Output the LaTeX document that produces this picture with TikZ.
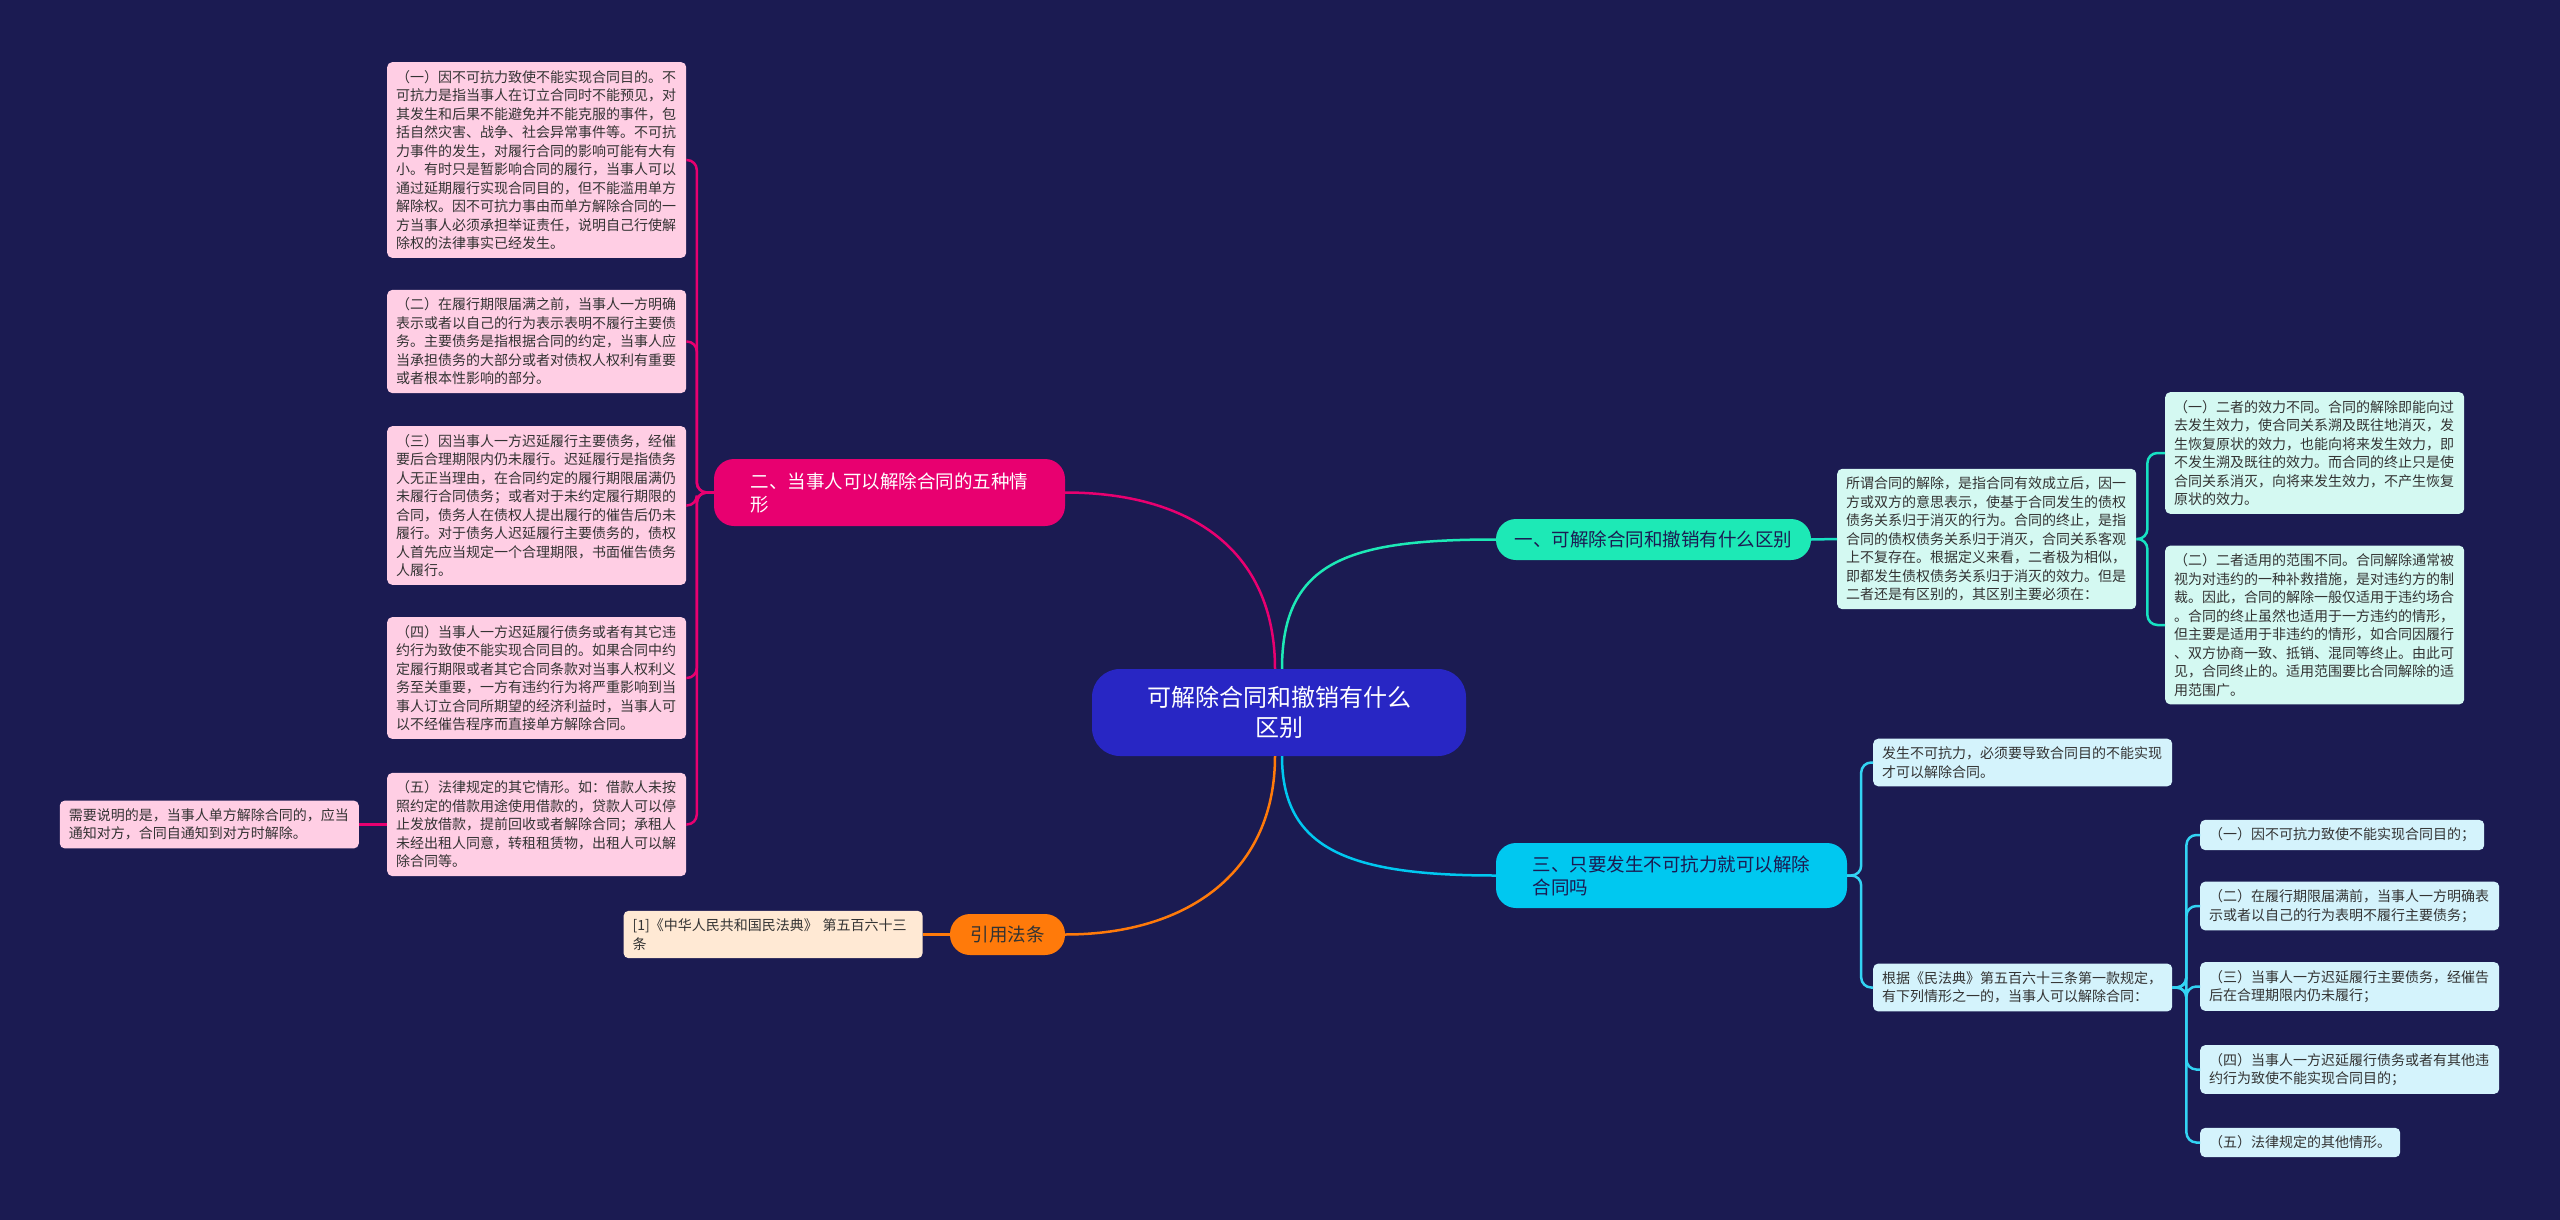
\documentclass[tikz,border=0pt]{standalone}
\usepackage{fontspec}
\setmainfont{Noto Sans CJK SC}
\usetikzlibrary{positioning}
\definecolor{bgc}{RGB}{27,27,82}
\definecolor{ctrc}{RGB}{40,38,196}
\definecolor{pinkc}{RGB}{232,0,112}
\definecolor{pinkbg}{RGB}{255,206,228}
\definecolor{mintc}{RGB}{29,233,182}
\definecolor{mintbg}{RGB}{212,249,242}
\definecolor{cyanc}{RGB}{0,200,240}
\definecolor{cyanbg}{RGB}{212,243,252}
\definecolor{orc}{RGB}{255,122,10}
\definecolor{orbg}{RGB}{255,233,212}
\definecolor{txtc}{RGB}{51,51,51}

\begin{document}
\begin{tikzpicture}[
  x=1pt,y=-1pt,
  root/.style={fill=ctrc,text=white,rounded corners=28pt,minimum width=374pt,minimum height=87pt,align=center,font=\fontsize{24}{30}\selectfont},
  topic/.style={rounded corners=20pt,minimum height=41pt,inner xsep=16pt,align=left,font=\fontsize{18.5}{23}\selectfont},
  note/.style={rounded corners=5pt,inner xsep=9pt,inner ysep=8pt,align=left,text=txtc,font=\fontsize{14}{18.5}\selectfont},
  wide/.style={text width=281pt},
  link/.style={line width=2.5pt}
]
\useasboundingbox (0,0) rectangle (2560,1220);
\fill[bgc] (0,0) rectangle (2560,1220);

\node[root] (ctr) at (1279,712.5) {可解除合同和撤销有什么\\区别};

\node[topic,fill=mintc,text=bgc,minimum width=315pt] (b1) at (1653.5,539.5) {一、可解除合同和撤销有什么区别};
\node[topic,fill=pinkc,text=white,minimum width=351pt,minimum height=67pt] (b2) at (889.5,492.5) {二、当事人可以解除合同的五种情\\形};
\node[topic,fill=cyanc,text=bgc,minimum width=351pt,minimum height=65pt] (b3) at (1671.5,875.5) {三、只要发生不可抗力就可以解除\\合同吗};
\node[topic,fill=orc,text=black!80,minimum width=115pt] (b4) at (1007.5,934.5) {引用法条};

% branch two
\node[note,wide,fill=pinkbg,anchor=west] (l1) at (387,160) {（一）因不可抗力致使不能实现合同目的。不\\可抗力是指当事人在订立合同时不能预见，对\\其发生和后果不能避免并不能克服的事件，包\\括自然灾害、战争、社会异常事件等。不可抗\\力事件的发生，对履行合同的影响可能有大有\\小。有时只是暂影响合同的履行，当事人可以\\通过延期履行实现合同目的，但不能滥用单方\\解除权。因不可抗力事由而单方解除合同的一\\方当事人必须承担举证责任，说明自己行使解\\除权的法律事实已经发生。};
\node[note,wide,fill=pinkbg,anchor=west] (l2) at (387,341.5) {（二）在履行期限届满之前，当事人一方明确\\表示或者以自己的行为表示表明不履行主要债\\务。主要债务是指根据合同的约定，当事人应\\当承担债务的大部分或者对债权人权利有重要\\或者根本性影响的部分。};
\node[note,wide,fill=pinkbg,anchor=west] (l3) at (387,505.5) {（三）因当事人一方迟延履行主要债务，经催\\要后合理期限内仍未履行。迟延履行是指债务\\人无正当理由，在合同约定的履行期限届满仍\\未履行合同债务；或者对于未约定履行期限的\\合同，债务人在债权人提出履行的催告后仍未\\履行。对于债务人迟延履行主要债务的，债权\\人首先应当规定一个合理期限，书面催告债务\\人履行。};
\node[note,wide,fill=pinkbg,anchor=west] (l4) at (387,678) {（四）当事人一方迟延履行债务或者有其它违\\约行为致使不能实现合同目的。如果合同中约\\定履行期限或者其它合同条款对当事人权利义\\务至关重要，一方有违约行为将严重影响到当\\事人订立合同所期望的经济利益时，当事人可\\以不经催告程序而直接单方解除合同。};
\node[note,wide,fill=pinkbg,anchor=west] (l5) at (387,824.5) {（五）法律规定的其它情形。如：借款人未按\\照约定的借款用途使用借款的，贷款人可以停\\止发放借款，提前回收或者解除合同；承租人\\未经出租人同意，转租租赁物，出租人可以解\\除合同等。};
\node[note,wide,fill=pinkbg,left=28pt of l5] (l5a) {需要说明的是，当事人单方解除合同的，应当\\通知对方，合同自通知到对方时解除。};

% cited law
\node[note,wide,fill=orbg,left=27pt of b4] (cite) {[1]《中华人民共和国民法典》 第五百六十三\\条};

% branch one
\node[note,wide,fill=mintbg,anchor=west] (d1) at (1837,539) {所谓合同的解除，是指合同有效成立后，因一\\方或双方的意思表示，使基于合同发生的债权\\债务关系归于消灭的行为。合同的终止，是指\\合同的债权债务关系归于消灭，合同关系客观\\上不复存在。根据定义来看，二者极为相似，\\即都发生债权债务关系归于消灭的效力。但是\\二者还是有区别的，其区别主要必须在：};
\node[note,wide,fill=mintbg,anchor=west] (d1a) at (2165,453) {（一）二者的效力不同。合同的解除即能向过\\去发生效力，使合同关系溯及既往地消灭，发\\生恢复原状的效力，也能向将来发生效力，即\\不发生溯及既往的效力。而合同的终止只是使\\合同关系消灭，向将来发生效力，不产生恢复\\原状的效力。};
\node[note,wide,fill=mintbg,anchor=west] (d1b) at (2165,625) {（二）二者适用的范围不同。合同解除通常被\\视为对违约的一种补救措施，是对违约方的制\\裁。因此，合同的解除一般仅适用于违约场合\\。合同的终止虽然也适用于一方违约的情形，\\但主要是适用于非违约的情形，如合同因履行\\、双方协商一致、抵销、混同等终止。由此可\\见，合同终止的。适用范围要比合同解除的适\\用范围广。};

% branch three
\node[note,wide,fill=cyanbg,anchor=west] (f1) at (1873,762.5) {发生不可抗力，必须要导致合同目的不能实现\\才可以解除合同。};
\node[note,wide,fill=cyanbg,anchor=west] (f2) at (1873,987.5) {根据《民法典》第五百六十三条第一款规定，\\有下列情形之一的，当事人可以解除合同：};
\node[note,fill=cyanbg,anchor=west] (g1) at (2200,835) {（一）因不可抗力致使不能实现合同目的；};
\node[note,wide,fill=cyanbg,anchor=west] (g2) at (2200,906) {（二）在履行期限届满前，当事人一方明确表\\示或者以自己的行为表明不履行主要债务；};
\node[note,wide,fill=cyanbg,anchor=west] (g3) at (2200,986.5) {（三）当事人一方迟延履行主要债务，经催告\\后在合理期限内仍未履行；};
\node[note,wide,fill=cyanbg,anchor=west] (g4) at (2200,1069.5) {（四）当事人一方迟延履行债务或者有其他违\\约行为致使不能实现合同目的；};
\node[note,fill=cyanbg,anchor=west] (g5) at (2200,1142.5) {（五）法律规定的其他情形。};

% connectors from the root
\draw[link,pinkc] ([xshift=-4pt]ctr.north) .. controls (1275,550) and (1190,492.5) .. (b2.east);
\draw[link,mintc] ([xshift=3pt]ctr.north) .. controls (1282,560) and (1350,539.5) .. (b1.west);
\draw[link,orc] ([xshift=-4pt]ctr.south) .. controls (1275,870) and (1190,934.5) .. (b4.east);
\draw[link,cyanc] ([xshift=3pt]ctr.south) .. controls (1282,850) and (1350,875.5) .. (b3.west);

% connectors to the notes
\foreach \n in {l1,l2,l3,l4,l5}
  \draw[link,pinkc,rounded corners=10pt] (b2.west) -- ++(-17,0) |- (\n.east);
\draw[link,pinkc] (l5.west) -- (l5a.east);
\draw[link,orc] (b4.west) -- (cite.east);
\draw[link,mintc!80!cyanc] (b1.east) -- (d1.west);
\foreach \n in {d1a,d1b}
  \draw[link,mintc!80!cyanc,rounded corners=10pt] (d1.east) -- ++(11,0) |- (\n.west);
\foreach \n in {f1,f2}
  \draw[link,cyanc!80!white,rounded corners=10pt] (b3.east) -- ++(14,0) |- (\n.west);
\foreach \n in {g1,g2,g3,g4,g5}
  \draw[link,cyanc!80!white,rounded corners=10pt] (f2.east) -- ++(14,0) |- (\n.west);
\end{tikzpicture}
\end{document}
